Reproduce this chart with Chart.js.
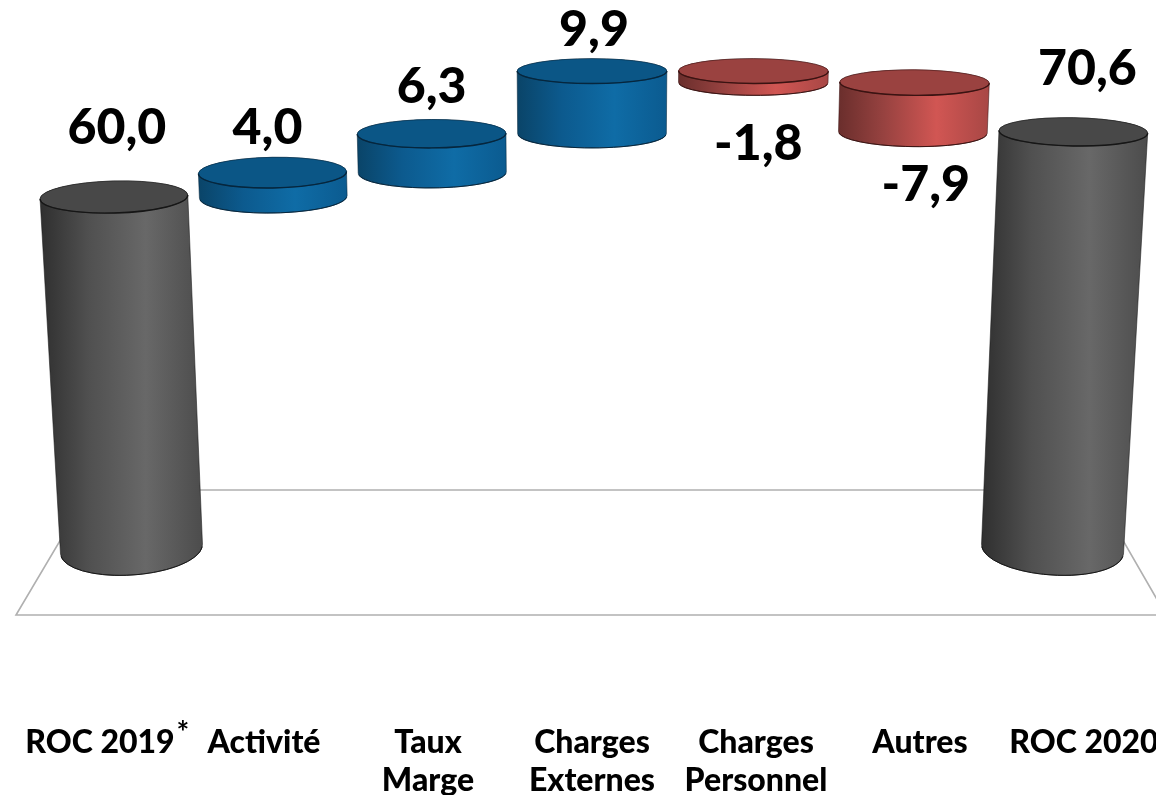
<!DOCTYPE html>
<html>
<head>
<meta charset="utf-8">
<title>ROC 2019 - 2020</title>
<script src="https://cdn.jsdelivr.net/npm/chart.js@4/dist/chart.umd.min.js"></script>
<style>
  html, body { margin: 0; padding: 0; background: #fff; overflow: hidden; width: 1156px; height: 795px; }
</style>
</head>
<body>
<canvas id="myChart" width="1180" height="795"></canvas>
<script>
const categories = ['ROC 2019', 'Activité', ['Taux', 'Marge'], ['Charges', 'Externes'], ['Charges', 'Personnel'], 'Autres', 'ROC 2020'];
const starts = [0, 60, 64, 70.3, 80.2, 78.4, 0];
const values = [60, 4, 6.3, 9.9, -1.8, -7.9, 70.6];
const valueLabels = ['60,0', '4,0', '6,3', '9,9', '-1,8', '-7,9', '70,6'];

const FONT = 'Lato';
const palette = {
    total: { top: '#484848', rim: '#161616', side: ['#2f2f2f', '#505050', '#686868', '#4c4c4c'] },
    up: { top: '#0b5686', rim: '#06263d', side: ['#0a4468', '#0c5a8e', '#0f6ca6', '#0b5b90'] },
    down: { top: '#9a4240', rim: '#3a1312', side: ['#6a2e2c', '#974240', '#d15653', '#a84745'] }
};
// label centre relative to the top (or underside for the falls) of each cylinder
const labelShift = [[3, -69], [-5, -45], [0, -47], [2, -41], [5, 61], [13, 52], [14, -63]];

// the picture is a 3D render: pull x to the centre and open up the ellipses as we go down
const project = (x, y, cx, y0) => {
    const t = (y0 - y) / 348;
    const py = y - 4 * t * t * t * t;
    const k = 0.936 + (y0 - py) * 0.0001014;
    return {
        k: k,
        x: cx + (x - cx) * k,
        y: py,
        ry: 12.5 + (py - 74) * 0.0285,
        ang: ((x - cx) / 492) * (1.5 + (py - 198) * 0.0071) * Math.PI / 180
    };
};

const drawCylinder = (ctx, bar, colors, cx, y0) => {
    const top = project(bar.x, Math.min(bar.y, bar.base), cx, y0);
    const bot = project(bar.x, Math.max(bar.y, bar.base), cx, y0);
    const rxT = bar.width / 2 * top.k;
    const rxB = bar.width / 2 * bot.k;

    const left = Math.min(top.x - rxT, bot.x - rxB);
    const right = Math.max(top.x + rxT, bot.x + rxB);
    const grad = ctx.createLinearGradient(left, 0, right, 0);
    grad.addColorStop(0, colors.side[0]);
    grad.addColorStop(0.3, colors.side[1]);
    grad.addColorStop(0.65, colors.side[2]);
    grad.addColorStop(1, colors.side[3]);

    ctx.beginPath();
    ctx.ellipse(bot.x, bot.y, rxB, bot.ry, bot.ang, 0, Math.PI);
    ctx.ellipse(top.x, top.y, rxT, top.ry, top.ang, Math.PI, Math.PI * 2);
    ctx.closePath();
    ctx.fillStyle = grad;
    ctx.fill();
    ctx.lineWidth = 1;
    ctx.strokeStyle = colors.rim;
    ctx.globalAlpha = 0.55;
    ctx.stroke();

    // underside edge is the darkest line of the body
    ctx.globalAlpha = 1;
    ctx.beginPath();
    ctx.ellipse(bot.x, bot.y, rxB, bot.ry, bot.ang, 0.1, Math.PI - 0.1);
    ctx.stroke();

    ctx.beginPath();
    ctx.ellipse(top.x, top.y, rxT, top.ry, top.ang, 0, Math.PI * 2);
    ctx.fillStyle = colors.top;
    ctx.fill();
    ctx.lineWidth = 0.8;
    ctx.globalAlpha = 0.6;
    ctx.stroke();

    // only the near half of the lid has the hard outline
    ctx.globalAlpha = 1;
    ctx.lineWidth = 1.4;
    ctx.beginPath();
    ctx.ellipse(top.x, top.y, rxT, top.ry, top.ang, 0, Math.PI);
    ctx.stroke();
};

const cylinders = {
    id: 'cylinders',
    beforeDatasetsDraw(chart) {
        // floor of the 3D scene
        const { ctx, chartArea } = chart;
        const front = chartArea.bottom + 66;
        const back = chartArea.bottom - 59;
        ctx.save();
        ctx.beginPath();
        ctx.moveTo(chartArea.left - 2, front);
        ctx.lineTo(chartArea.right, front);
        ctx.lineTo(chartArea.right - 72, back);
        ctx.lineTo(chartArea.left + 72, back);
        ctx.closePath();
        ctx.lineWidth = 1.6;
        ctx.strokeStyle = '#b0b0b0';
        ctx.stroke();
        ctx.restore();
    },
    afterDatasetsDraw(chart) {
        const { ctx, chartArea, scales } = chart;
        const cx = (chartArea.left + chartArea.right) / 2;
        const y0 = chartArea.bottom;
        const bars = chart.getDatasetMeta(0).data;
        ctx.save();
        bars.forEach((bar, i) => {
            const isTotal = i === 0 || i === bars.length - 1;
            const colors = isTotal ? palette.total : (values[i] < 0 ? palette.down : palette.up);
            drawCylinder(ctx, bar, colors, cx, y0);
        });
        ctx.fillStyle = '#000';
        ctx.textAlign = 'center';
        ctx.textBaseline = 'middle';
        ctx.font = '900 50px ' + FONT;
        bars.forEach((bar, i) => {
            const edge = values[i] < 0 ? Math.max(bar.y, bar.base) : Math.min(bar.y, bar.base);
            const p = project(bar.x, edge, cx, y0);
            ctx.fillText(valueLabels[i], p.x + labelShift[i][0], p.y + labelShift[i][1]);
        });
        ctx.font = 'bold 30px ' + FONT;
        ctx.fillText('*', scales.x.getPixelForValue(0) + 83, 733);
        ctx.restore();
    }
};

new Chart(document.getElementById('myChart'), {
    type: 'bar',
    data: {
        labels: categories,
        datasets: [{
            label: 'ROC',
            data: starts.map((s, i) => [s, s + values[i]]),
            backgroundColor: 'rgba(0,0,0,0)',
            borderWidth: 0,
            categoryPercentage: 1,
            barPercentage: 0.927
        }]
    },
    plugins: [cylinders],
    options: {
        responsive: false,
        animation: false,
        layout: { autoPadding: false, padding: { left: 18, right: 14, top: 27, bottom: 0 } },
        scales: {
            x: {
                grid: { display: false },
                border: { display: false },
                afterFit(scale) {
                    scale.height = 246;
                    scale.paddingLeft = 0;
                    scale.paddingRight = 0;
                },
                ticks: {
                    autoSkip: false,
                    maxRotation: 0,
                    minRotation: 0,
                    padding: 167,
                    color: '#000',
                    font: { family: FONT, weight: '900', size: 32, lineHeight: 1.19 }
                }
            },
            y: { display: false, min: 0, max: 90 }
        },
        plugins: {
            legend: { display: false },
            tooltip: { enabled: false }
        }
    }
});
</script>
</body>
</html>
